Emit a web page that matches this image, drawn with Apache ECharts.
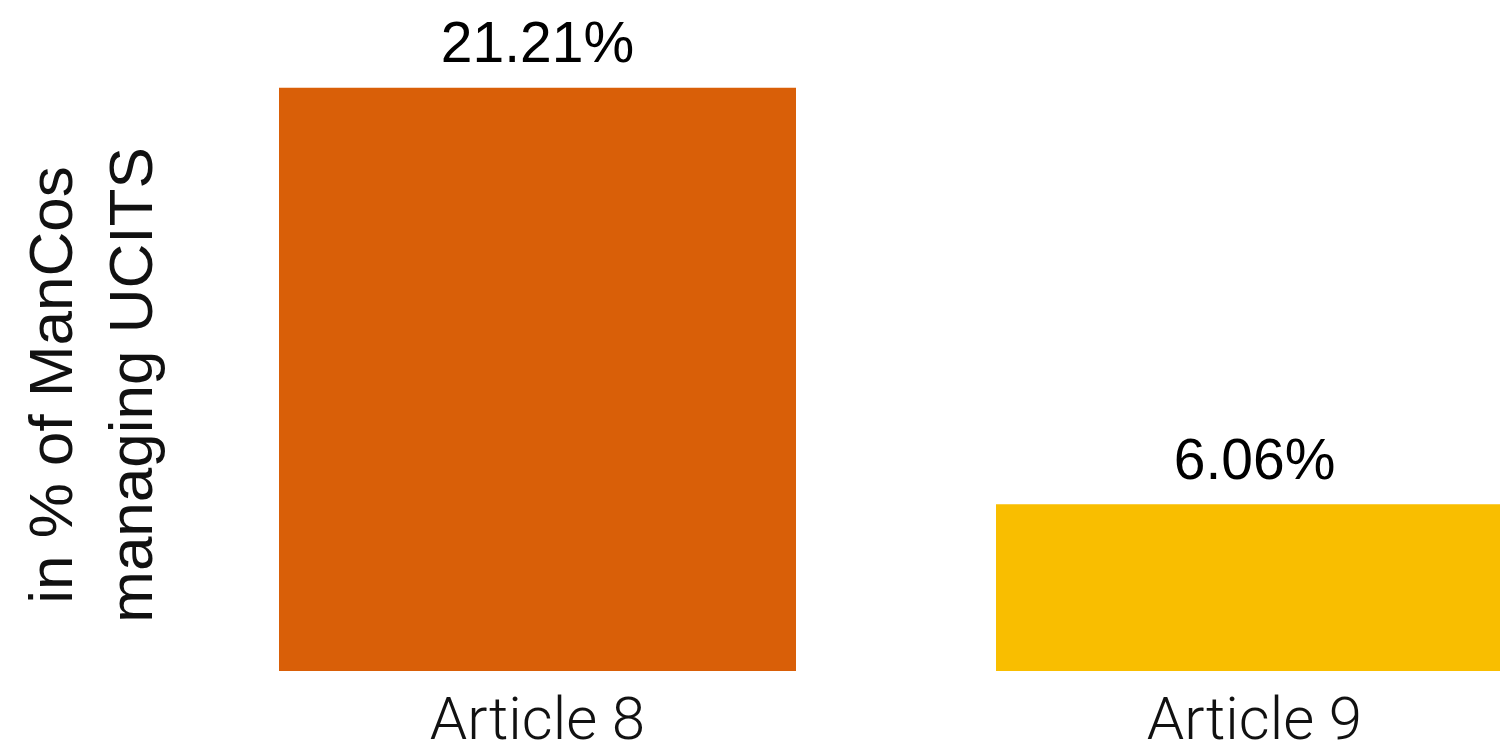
<!DOCTYPE html>
<html>
<head>
<meta charset="utf-8">
<script src="https://cdn.jsdelivr.net/npm/echarts@6/dist/echarts.min.js"></script>
<style>
  html, body { margin: 0; padding: 0; background: #ffffff; }
  #chart { width: 1500px; height: 747px; }
</style>
</head>
<body>
<div id="chart"></div>
<script>
// Share of management companies with Article 8 / Article 9 UCITS
const categories = ['Article 8', 'Article 9'];
const shares = [21.21, 6.06];
const barColors = ['#D95F08', '#F9BE00'];
const axisTitle = ['in % of ManCos', 'managing UCITS'];

const chart = echarts.init(document.getElementById('chart'));

chart.setOption({
  animation: false,
  backgroundColor: '#ffffff',
  grid: {
    left: 179,
    top: 11,
    width: 1434,
    height: 660,
    containLabel: false,
    outerBoundsMode: 'none'
  },
  xAxis: {
    type: 'category',
    data: categories,
    axisLine: { show: false },
    axisTick: { show: false },
    axisLabel: {
      margin: 23,
      color: '#111111',
      fontFamily: 'Roboto, sans-serif',
      fontWeight: 300,
      fontSize: 60,
      lineHeight: 60
    }
  },
  yAxis: {
    type: 'value',
    min: 0,
    max: 24,
    show: false,
    splitLine: { show: false }
  },
  series: [{
    type: 'bar',
    barWidth: 517,
    data: shares.map((v, i) => ({ value: v, itemStyle: { color: barColors[i] } })),
    label: {
      show: true,
      position: 'top',
      distance: 13,
      color: '#000000',
      fontFamily: '"Liberation Sans", Arial, sans-serif',
      fontSize: 57,
      formatter: p => p.value.toFixed(2) + '%'
    }
  }],
  graphic: [{
    type: 'text',
    x: 95,
    y: 385,
    rotation: Math.PI / 2,
    style: {
      text: axisTitle.join('\n'),
      align: 'center',
      verticalAlign: 'middle',
      lineHeight: 80,
      fill: '#111111',
      font: '62px "Liberation Sans", Arial, sans-serif'
    }
  }]
});
</script>
</body>
</html>
